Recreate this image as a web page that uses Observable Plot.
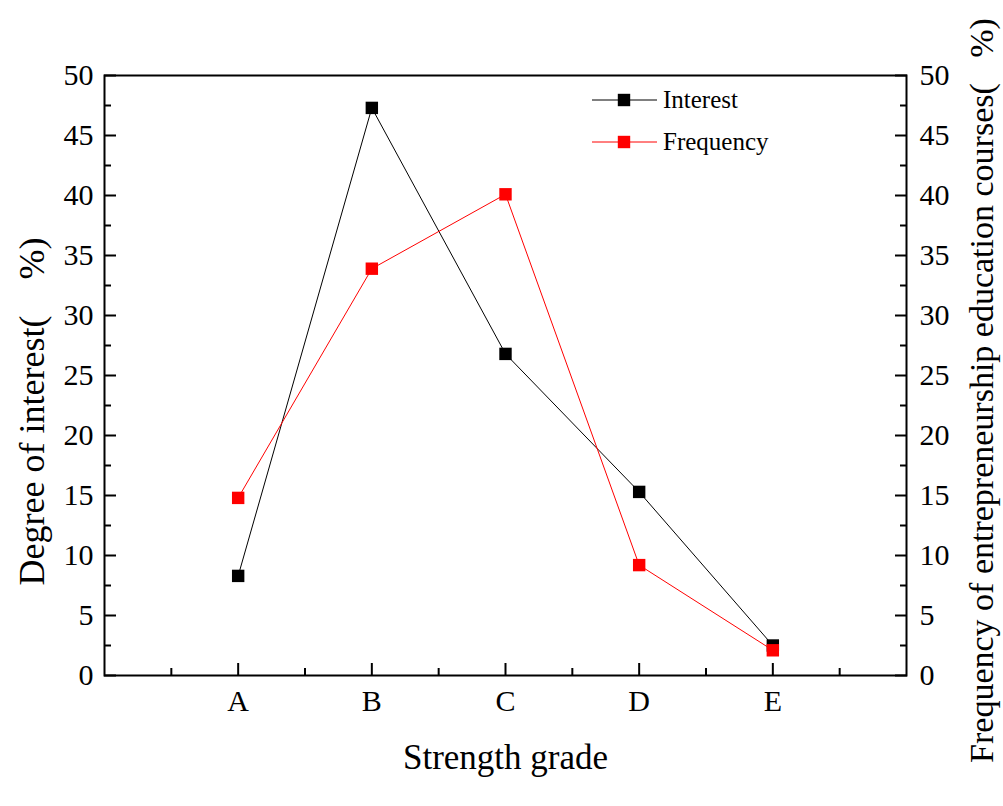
<!DOCTYPE html>
<html><head><meta charset="utf-8">
<script src="https://cdn.jsdelivr.net/npm/d3@7"></script>
<script src="https://cdn.jsdelivr.net/npm/@observablehq/plot@0.6"></script>
<style>body{margin:0;background:#fff}</style>
</head><body><div id="chart"></div>
<script>
// ---- data ----
const categories = ["A", "B", "C", "D", "E"];
const interest = [8.3, 47.3, 26.8, 15.3, 2.5];
const frequency = [14.8, 33.9, 40.1, 9.2, 2.1];
const yMajorTicks = [0, 5, 10, 15, 20, 25, 30, 35, 40, 45, 50];
const yMinorTicks = [2.5, 7.5, 12.5, 17.5, 22.5, 27.5, 32.5, 37.5, 42.5, 47.5];
const xMajorTicks = [1, 2, 3, 4, 5];
const xMinorTicks = [0.5, 1.5, 2.5, 3.5, 4.5, 5.5];
const seriesNames = ["Interest", "Frequency"];
const seriesColors = ["#000000", "#ff0000"];
const xLabel = "Strength grade";
const yLabelLeft = "Degree of interest(\u00a0\u00a0\u00a0\u00a0%)";
const yLabelRight = "Frequency of entrepreneurship education courses(\u00a0\u00a0\u00a0%)";

const rows = categories.map((c, i) => ({cat: c, pos: i + 1, interest: interest[i], frequency: frequency[i]}));

const M = {left: 104, right: 97, top: 75, bottom: 131};
const font = "'Liberation Serif','Times New Roman',serif";

const chart = Plot.plot({
  width: 1003, height: 806,
  marginLeft: M.left, marginRight: M.right, marginTop: M.top, marginBottom: M.bottom,
  style: {fontFamily: font, color: "#000", background: "#fff", overflow: "visible"},
  x: {domain: [0, 6]},
  y: {domain: [0, 50]},
  marks: [
    Plot.axisY(yMajorTicks, {anchor: "left", tickSize: -12, tickPadding: 23, fontSize: 30, strokeWidth: 2, label: null}),
    Plot.axisY(yMinorTicks, {anchor: "left", tickSize: -7, strokeWidth: 2, tickFormat: () => "", label: null}),
    Plot.axisY(yMajorTicks, {anchor: "right", tickSize: -12, tickPadding: 25, fontSize: 30, strokeWidth: 2, label: null}),
    Plot.axisY(yMinorTicks, {anchor: "right", tickSize: -7, strokeWidth: 2, tickFormat: () => "", label: null}),
    Plot.axisX(xMajorTicks, {anchor: "bottom", tickSize: -12, tickPadding: 26, fontSize: 30, strokeWidth: 2, tickFormat: d => categories[d - 1], label: null}),
    Plot.axisX(xMinorTicks, {anchor: "bottom", tickSize: -7, strokeWidth: 2, tickFormat: () => "", label: null}),
    Plot.frame({stroke: "#000", strokeWidth: 2}),
    Plot.line(rows, {x: "pos", y: "interest", stroke: seriesColors[0], strokeWidth: 1}),
    Plot.dot(rows, {x: "pos", y: "interest", symbol: "square", r: 7, fill: seriesColors[0], stroke: null}),
    Plot.line(rows, {x: "pos", y: "frequency", stroke: seriesColors[1], strokeWidth: 1}),
    Plot.dot(rows, {x: "pos", y: "frequency", symbol: "square", r: 7, fill: seriesColors[1], stroke: null}),
    Plot.text([xLabel], {frameAnchor: "bottom", dy: 82, fontSize: 35, lineAnchor: "middle", textAnchor: "middle", fill: "#000"}),
    Plot.text([yLabelLeft], {frameAnchor: "left", dx: -72, dy: 36, rotate: -90, fontSize: 36, lineAnchor: "middle", textAnchor: "middle", fill: "#000"}),
    Plot.text([yLabelRight], {frameAnchor: "right", dx: 76, dy: 15, rotate: -90, fontSize: 34, lineAnchor: "middle", textAnchor: "middle", fill: "#000"})
  ]
});
document.getElementById("chart").appendChild(chart);

// ---- legend (inside the frame, top) ----
const svg = d3.select(chart);
const lg = svg.append("g").attr("transform", `translate(${M.left},${M.top})`);
seriesNames.forEach((name, i) => {
  const cy = 25 + i * 42;
  const g = lg.append("g").attr("transform", `translate(0,${cy})`);
  g.append("line").attr("x1", 488).attr("x2", 553).attr("y1", 0).attr("y2", 0)
    .attr("stroke", seriesColors[i]).attr("stroke-width", 1);
  g.append("rect").attr("x", 520 - 6.2).attr("y", -6.2).attr("width", 12.4).attr("height", 12.4)
    .attr("fill", seriesColors[i]);
  g.append("text").attr("x", 559).attr("y", 0).attr("dy", "0.32em").attr("text-anchor", "start")
    .attr("font-family", font).attr("font-size", 25).attr("fill", "#000").text(name);
});
</script>
</body></html>
